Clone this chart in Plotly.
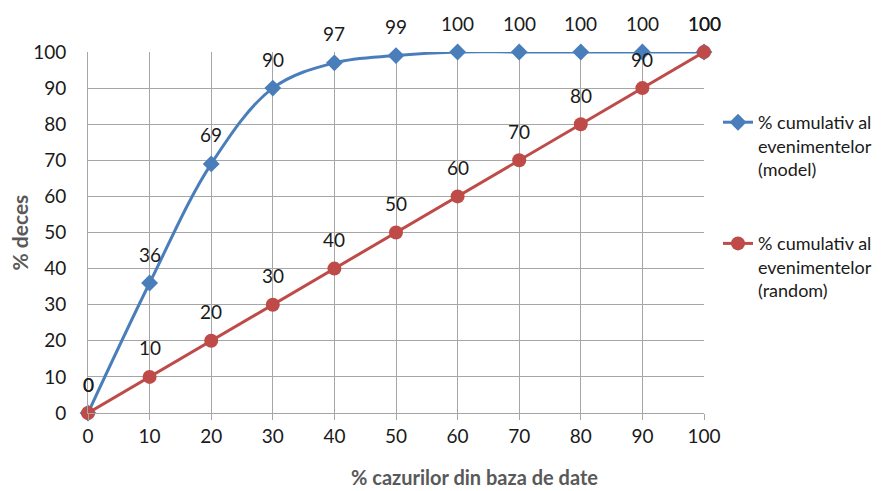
import plotly.graph_objects as go

# Share of cases in the database (%)
pct_cases = [0, 10, 20, 30, 40, 50, 60, 70, 80, 90, 100]
# Cumulative % of events captured by the model
model_cum = [0, 36, 69, 90, 97, 99, 100, 100, 100, 100, 100]
# Cumulative % of events under random selection
random_cum = [0, 10, 20, 30, 40, 50, 60, 70, 80, 90, 100]

BLUE = "#4A7EBB"
RED = "#BE4B48"
FONT = "Lato, 'Open Sans', sans-serif"
TXT = "#1a1a1a"

W, H = 886, 491
ML, MR, MT, MB = 88, 182, 52, 78
pw, ph = W - ML - MR, H - MT - MB

fig = go.Figure()

fig.add_trace(go.Scatter(
    x=pct_cases, y=model_cum,
    mode="lines+markers",
    name="% cumulativ al<br>evenimentelor<br>(model)",
    legendgroup="model",
    line=dict(color=BLUE, width=3, shape="spline", smoothing=1.0),
    marker=dict(symbol="diamond", size=13, color=BLUE),
    cliponaxis=False,
))
fig.add_trace(go.Scatter(
    x=pct_cases, y=random_cum,
    mode="lines+markers",
    name="% cumulativ al<br>evenimentelor<br>(random)",
    legendgroup="random",
    line=dict(color=RED, width=3),
    marker=dict(symbol="circle", size=14, color=RED),
    cliponaxis=False,
))

annotations = []
# value labels above each point
for xs, ys in ((pct_cases, model_cum), (pct_cases, random_cum)):
    for xv, yv in zip(xs, ys):
        annotations.append(dict(
            x=xv, y=yv, xref="x", yref="y", text=str(yv),
            showarrow=False, yshift=29,
            font=dict(family=FONT, size=19, color=TXT),
        ))

# axis titles
annotations.append(dict(
    x=(474 - ML) / pw, y=(H - MB - 477) / ph, xref="paper", yref="paper",
    xanchor="center", yanchor="middle",
    text="<b>% cazurilor din baza de date</b>",
    showarrow=False, font=dict(family=FONT, size=20, color="#595959"),
))
annotations.append(dict(
    x=(19 - ML) / pw, y=0.5, xref="paper", yref="paper",
    xanchor="center", yanchor="middle", text="<b>% deces</b>",
    showarrow=False, textangle=-90, font=dict(family=FONT, size=21, color="#595959"),
))

fig.update_layout(
    width=W, height=H,
    margin=dict(l=ML, r=MR, t=MT, b=MB, pad=0, autoexpand=False),
    paper_bgcolor="white", plot_bgcolor="white",
    font=dict(family=FONT, size=19, color=TXT),
    showlegend=True,
    legend=dict(
        x=(718 - ML) / pw, y=1 - (104 - MT) / ph,
        xanchor="left", yanchor="top",
        font=dict(family=FONT, size=18, color=TXT),
        valign="top", tracegroupgap=48, itemwidth=30,
        bgcolor="rgba(0,0,0,0)",
    ),
    annotations=annotations,
)

fig.update_xaxes(
    range=[0, 100], tickvals=pct_cases, ticktext=[str(v) for v in pct_cases],
    showgrid=True, gridcolor="#A6A6A6", gridwidth=1,
    zeroline=False, showline=True, linecolor="#A6A6A6", linewidth=1,
    ticks="outside", ticklen=6, tickcolor="#A6A6A6",
    tickfont=dict(family=FONT, size=19, color=TXT),
)
fig.update_yaxes(
    range=[0, 100], tickvals=list(range(0, 101, 10)),
    showgrid=True, gridcolor="#A6A6A6", gridwidth=1,
    zeroline=False, showline=True, linecolor="#A6A6A6", linewidth=1,
    ticks="", ticklabelstandoff=17,
    tickfont=dict(family=FONT, size=19, color=TXT),
)

fig.write_html("out.html")
